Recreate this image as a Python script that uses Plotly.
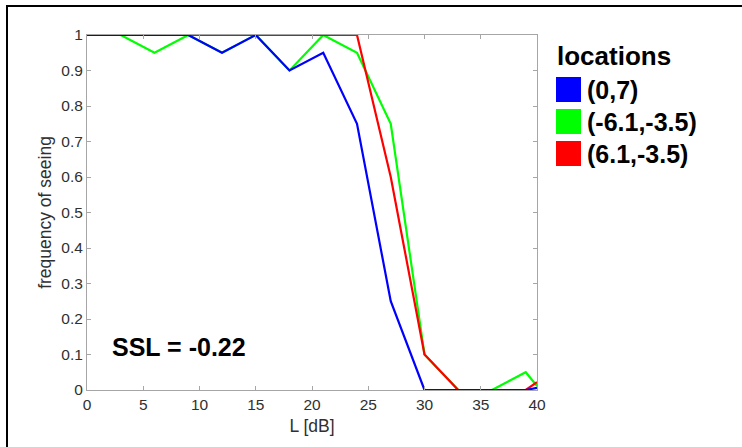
import plotly.graph_objects as go

# stimulus levels (dB) and frequency-of-seeing per test location
levels = [0, 3, 6, 9, 12, 15, 18, 21, 24, 27, 30, 33, 36, 39, 40]
fos_0_7 = [1, 1, 1, 1, 0.95, 1, 0.9, 0.95, 0.75, 0.25, 0, 0, 0, 0, 0.006]
fos_m61_m35 = [1, 1, 0.95, 1, 0.95, 1, 0.9, 1, 0.95, 0.75, 0.1, 0, 0, 0.05, 0.011]
fos_61_m35 = [1, 1, 1, 1, 1, 1, 1, 1, 1, 0.6, 0.1, 0, 0, 0, 0.022]

names = ["(0,7)", "(-6.1,-3.5)", "(6.1,-3.5)"]
colors = ["#0000ff", "#00ff00", "#ff0000"]
series = [fos_0_7, fos_m61_m35, fos_61_m35]
ssl_text = "SSL = -0.22"

FONT = "Liberation Sans, Arial, Helvetica, sans-serif"

# plot-area geometry in pixels
W, H = 742, 447
L, R, T, B = 87, 537, 35, 390


def px_x(p):
    return (p - L) / (R - L)


def px_y(p):
    return (B - p) / (B - T)


fig = go.Figure()

# draw green, red, then blue so blue sits on top
for i in [1, 2, 0]:
    fig.add_trace(go.Scatter(
        x=levels, y=series[i], mode="lines", name=names[i],
        line=dict(color=colors[i], width=2.2),
        showlegend=False, cliponaxis=True,
    ))

shapes = [
    # outer figure frame
    dict(type="rect", xref="paper", yref="paper",
         x0=px_x(7), x1=px_x(760), y0=px_y(470), y1=px_y(6),
         line=dict(color="black", width=2), fillcolor="rgba(0,0,0,0)",
         layer="below"),
]
annotations = [
    dict(text=ssl_text, x=2.0, y=0.12, xref="x", yref="y",
         xanchor="left", yanchor="middle", showarrow=False,
         font=dict(family=FONT, size=25, color="black", weight="bold")),
    dict(text="locations", x=px_x(555), y=px_y(56), xref="paper", yref="paper",
         xanchor="left", yanchor="middle", showarrow=False,
         font=dict(family=FONT, size=26, color="black", weight="bold")),
]

# legend: coloured squares with bold labels
for k, (nm, col) in enumerate(zip(names, colors)):
    top = 77 + 32 * k
    shapes.append(dict(type="rect", xref="paper", yref="paper",
                       x0=px_x(556), x1=px_x(581), y0=px_y(top + 25), y1=px_y(top),
                       line=dict(width=0), fillcolor=col))
    annotations.append(dict(text=nm, x=px_x(585), y=px_y(top + 12.5),
                            xref="paper", yref="paper", xanchor="left",
                            yanchor="middle", showarrow=False,
                            font=dict(family=FONT, size=25, color="black",
                                      weight="bold")))

axis_common = dict(
    showline=True, linecolor="#a6a6a6", linewidth=1, mirror="ticks",
    ticks="inside", ticklen=4, tickcolor="#a6a6a6",
    showgrid=False, zeroline=False,
    tickfont=dict(family=FONT, size=15.5, color="#303030"),
)

fig.update_layout(
    width=W, height=H,
    margin=dict(l=L, r=W - R, t=T, b=H - B),
    paper_bgcolor="white", plot_bgcolor="white",
    xaxis=dict(range=[0, 40], tickvals=[0, 5, 10, 15, 20, 25, 30, 35, 40],
               title=dict(text="L [dB]", standoff=8,
                          font=dict(family=FONT, size=17.5, color="#303030")),
               **axis_common),
    yaxis=dict(range=[0, 1], tickvals=[0, 0.1, 0.2, 0.3, 0.4, 0.5, 0.6, 0.7, 0.8, 0.9, 1],
               ticktext=["0", "0.1", "0.2", "0.3", "0.4", "0.5", "0.6", "0.7", "0.8", "0.9", "1"],
               title=dict(text="frequency of seeing", standoff=5,
                          font=dict(family=FONT, size=17.5, color="#303030")),
               **axis_common),
    shapes=shapes,
    annotations=annotations,
    showlegend=False,
)

fig.write_html("out.html")
